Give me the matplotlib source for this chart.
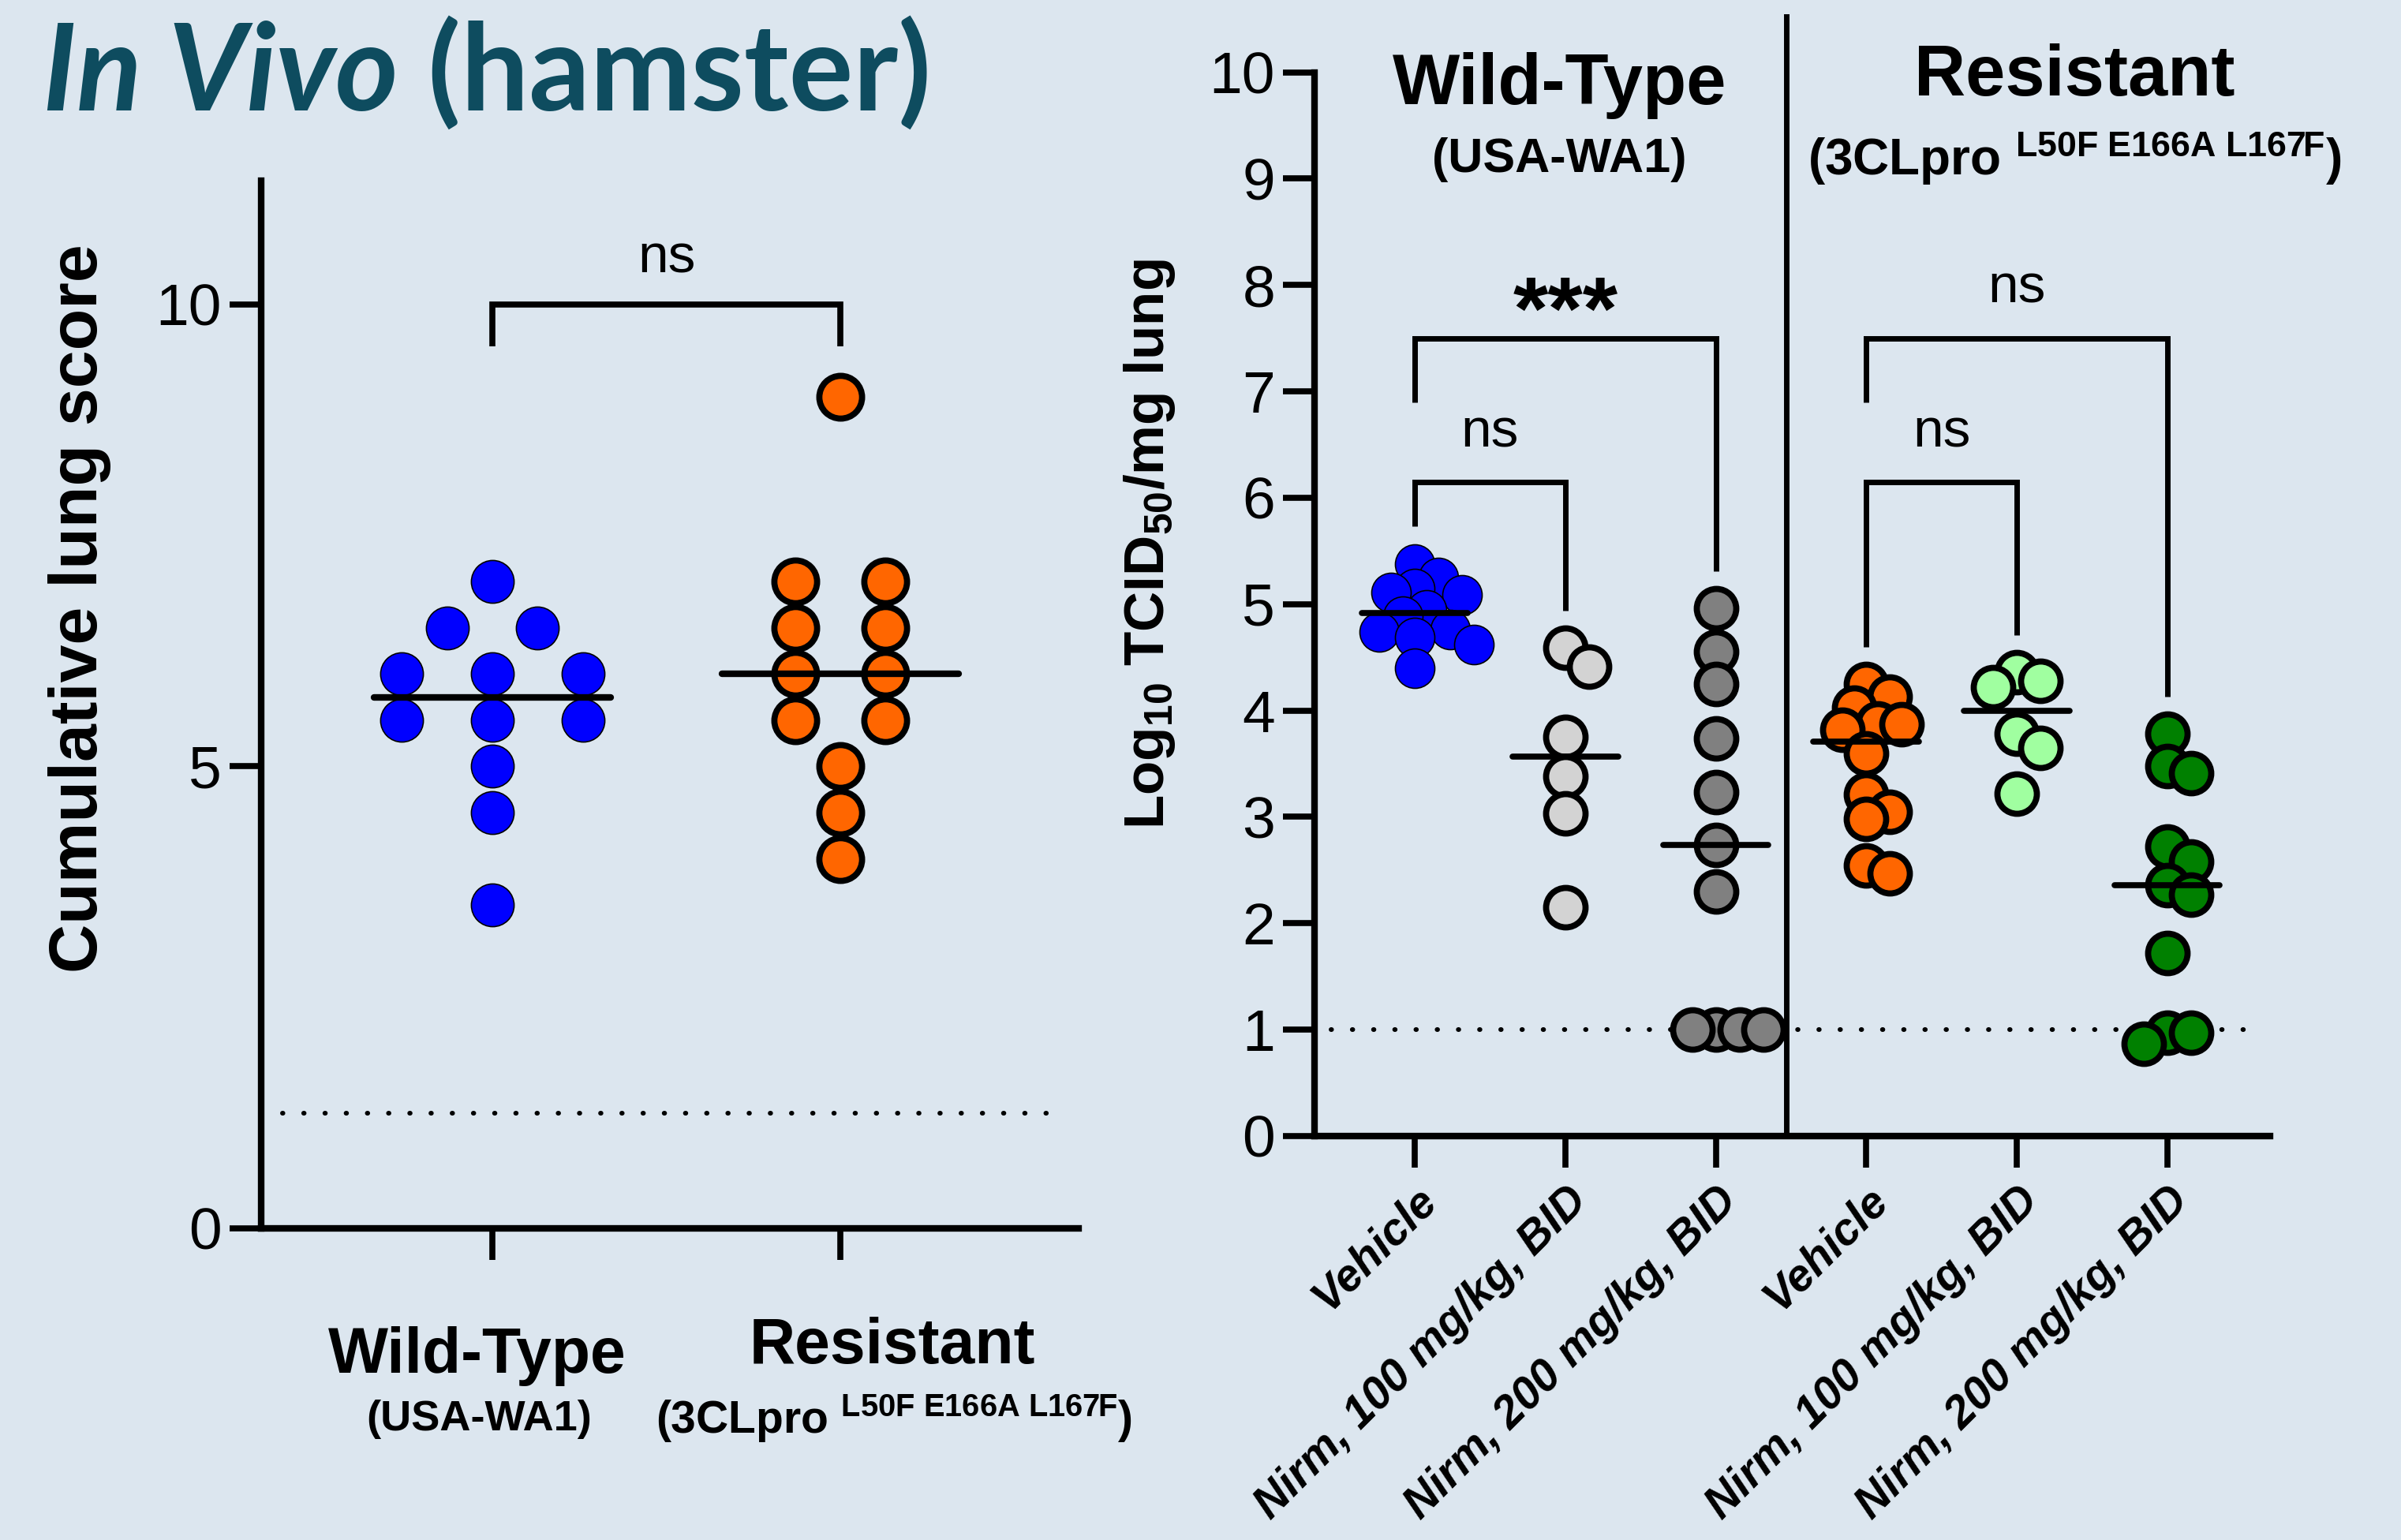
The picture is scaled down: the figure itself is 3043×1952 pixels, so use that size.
import matplotlib.pyplot as plt
import numpy as np

# ----- DATA -----

lung_groups = ["Wild-Type", "Resistant"]
lung_wt = [7.0, 6.5, 6.5, 6.0, 6.0, 6.0, 5.5, 5.5, 5.5, 5.0, 4.5, 3.5]
lung_res = [9.0, 7.0, 7.0, 6.5, 6.5, 6.0, 6.0, 5.5, 5.5, 5.0, 4.5, 4.0]
lung_lod = 1.25
lung_stat = "ns"

titer_labels = ["Vehicle", "Nirm, 100 mg/kg, BID", "Nirm, 200 mg/kg, BID",
                "Vehicle", "Nirm, 100 mg/kg, BID", "Nirm, 200 mg/kg, BID"]
titer_wt_vehicle = [5.38, 5.25, 5.15, 5.11, 5.09, 4.95, 4.89, 4.76, 4.74, 4.69, 4.62, 4.40]
titer_wt_100 = [4.59, 4.41, 3.75, 3.38, 3.03, 2.15]
titer_wt_200 = [4.96, 4.55, 4.25, 3.74, 3.23, 2.74, 2.30, 1.0, 1.0, 1.0, 1.0]
titer_res_vehicle = [4.25, 4.13, 4.03, 3.88, 3.87, 3.82, 3.60, 3.21, 3.05, 2.98, 2.54, 2.47]
titer_res_100 = [4.36, 4.28, 4.22, 3.78, 3.65, 3.22]
titer_res_200 = [3.78, 3.48, 3.41, 2.72, 2.58, 2.36, 2.27, 1.72, 0.97, 0.97, 0.87]
titer_lod = 1.0
# (first group, second group, label) for each comparison
titer_stats_low = [(0, 1, "ns"), (3, 4, "ns")]
titer_stats_high = [(0, 2, "***"), (3, 5, "ns")]

# ----- STYLE -----

BG = "#DCE6EF"
TEAL = "#0E4C5F"
lung_colors = ["#0000FF", "#FF6600"]
titer_colors = ["#0000FF", "#D3D3D3", "#808080", "#FF6600", "#A0FFA0", "#008000"]

plt.rcParams["font.family"] = ["Liberation Sans", "DejaVu Sans"]
plt.rcParams["mathtext.fontset"] = "custom"
plt.rcParams["mathtext.rm"] = "Liberation Sans"
plt.rcParams["mathtext.bf"] = "Liberation Sans:bold"
plt.rcParams["mathtext.it"] = "Liberation Sans:italic"


# ----- HELPER FUNCTIONS -----


def spread_equal(values, step):
    """
    centre the points that share the same value side by side
    """
    values = np.asarray(values)
    offsets = np.zeros(len(values))
    for v in np.unique(values):
        idx = np.where(values == v)[0]
        offsets[idx] = (np.arange(len(idx)) - (len(idx) - 1) / 2) * step
    return offsets


def swarm(ax, x0, values, min_px, step_px):
    """
    greedy beeswarm in pixel space, returns x positions in data units
    """
    placed = []
    xs = []
    order = [0]
    for n in range(1, 30):
        order += [n, -n]
    for v in values:
        px, py = ax.transData.transform((x0, v))
        for k in order:
            cx = px + k * step_px
            if all(np.hypot(cx - qx, py - qy) >= min_px for qx, qy in placed):
                break
        placed.append((cx, py))
        xs.append(ax.transData.inverted().transform((cx, py))[0])
    return np.array(xs)


def bracket(ax, x0, x1, top, leg0, leg1, lw=5):
    ax.plot([x0, x0, x1, x1], [leg0, top, top, leg1], color="k", lw=lw,
            solid_joinstyle="miter", solid_capstyle="butt", clip_on=False, zorder=5)


def style_axes(ax):
    ax.set_facecolor(BG)
    for side in ["top", "right"]:
        ax.spines[side].set_visible(False)
    for side in ["left", "bottom"]:
        ax.spines[side].set_linewidth(6)
    ax.tick_params(length=29, width=5.5, labelsize=54, pad=7)


# ----- FIGURE -----

fig = plt.figure(figsize=(30.43, 19.52), dpi=100)
fig.patch.set_facecolor(BG)

# left panel: lung score
axL = fig.add_axes([0.1088, 0.2024, 0.3405, 0.6803])
style_axes(axL)
axL.set_xlim(-0.664, 1.685)
axL.set_ylim(0, 11.34)
axL.set_yticks([0, 5, 10])
axL.set_xticks([0, 1])
axL.set_xticklabels([])

axL.axhline(lung_lod, xmin=0.026, xmax=0.971, color="k", lw=4.3,
            linestyle=(0, (0.1, 4.4)), dash_capstyle="round", zorder=1)

for i, (vals, col) in enumerate(zip([lung_wt, lung_res], lung_colors)):
    x = i + spread_equal(vals, 0.26)
    mew = 1.2 if i == 0 else 5.6
    axL.scatter(x, vals, s=39 ** 2, c=col, edgecolors="k", linewidths=mew, zorder=3)
    med = np.median(vals)
    axL.plot([i - 0.34, i + 0.34], [med, med], color="k", lw=6,
             solid_capstyle="round", zorder=4)

bracket(axL, 0, 1, 10, 9.55, 9.55, lw=5.5)
axL.text(0.5, 10.5, lung_stat, ha="center", va="center", fontsize=50)

axL.text(-0.043, -1.56, lung_groups[0], ha="center", va="baseline",
         fontsize=58, fontweight="bold")
axL.text(-0.039, -2.19, "(USA-WA1)", ha="center", va="baseline",
         fontsize=39, fontweight="bold")
axL.text(1.15, -1.46, lung_groups[1], ha="center", va="baseline",
         fontsize=58, fontweight="bold")
axL.text(1.154, -2.22, r"(3CLpro $^{\mathbf{L50F\ E166A\ L167F}}$)", ha="center",
         va="baseline", fontsize=41, fontweight="bold")

fig.text(0.0332, 0.605, "Cumulative lung score", rotation=90, ha="center",
         va="center", fontsize=62, fontweight="bold")

# right panel: viral titer
axR = fig.add_axes([0.5475, 0.2623, 0.3980, 0.6908])
style_axes(axR)
axR.set_xlim(-0.666, 5.684)
axR.set_ylim(0, 10)
axR.set_yticks(range(11))
axR.set_xticks(range(6))
axR.set_xticklabels(titer_labels, rotation=45, ha="right", rotation_mode="anchor",
                    fontsize=41, fontweight="bold", fontstyle="italic")
axR.tick_params(axis="x", pad=10)

axR.axhline(titer_lod, xmin=0.017, xmax=0.99, color="k", lw=4.3,
            linestyle=(0, (0.1, 4.4)), dash_capstyle="round", zorder=1)
axR.plot([2.47, 2.47], [0, 10.52], color="k", lw=5, clip_on=False, zorder=2)

titer_sets = [titer_wt_vehicle, titer_wt_100, titer_wt_200,
              titer_res_vehicle, titer_res_100, titer_res_200]
for i, (vals, col) in enumerate(zip(titer_sets, titer_colors)):
    x = swarm(axR, i, vals, 30, 15)
    mew = 1.2 if i == 0 else 5.6
    axR.scatter(x, vals, s=36 ** 2, c=col, edgecolors="k", linewidths=mew, zorder=3)
    med = np.median(vals)
    axR.plot([i - 0.35, i + 0.35], [med, med], color="k", lw=5.5,
             solid_capstyle="round", zorder=4)

low_top = 6.15
high_top = 7.5
for a, b, lab in titer_stats_low:
    bracket(axR, a, b, low_top, max(titer_sets[a]) + 0.35, max(titer_sets[b]) + 0.35)
    axR.text((a + b) / 2, 6.61, lab, ha="center", va="center", fontsize=50)
for a, b, lab in titer_stats_high:
    bracket(axR, a, b, high_top, low_top + 0.75, max(titer_sets[b]) + 0.35)
    if lab == "ns":
        axR.text((a + b) / 2, 7.97, lab, ha="center", va="center", fontsize=50)
    else:
        axR.text((a + b) / 2, 7.49, lab, ha="center", va="baseline",
                 fontsize=82, fontweight="bold")

axR.text(0.96, 9.70, "Wild-Type", ha="center", va="baseline", fontsize=65,
         fontweight="bold")
axR.text(0.96, 9.06, "(USA-WA1)", ha="center", va="baseline", fontsize=44,
         fontweight="bold")
axR.text(4.384, 9.78, "Resistant", ha="center", va="baseline", fontsize=65,
         fontweight="bold")
axR.text(4.384, 9.03, r"(3CLpro $^{\mathbf{L50F\ E166A\ L167F}}$)", ha="center",
         va="baseline", fontsize=46, fontweight="bold")

fig.text(0.4788, 0.6465, r"Log$_{\mathbf{10}}$ TCID$_{\mathbf{50}}$/mg lung",
         rotation=90, ha="center", va="center", fontsize=51, fontweight="bold")

# title, italic part then upright part
t1 = fig.text(0.0177, 0.9283, "In Vivo", fontfamily="Lato", fontweight="bold",
              fontstyle="italic", fontsize=110, color=TEAL, va="baseline")
bb = t1.get_window_extent(fig.canvas.get_renderer())
x_end = fig.transFigure.inverted().transform((bb.x1, bb.y0))[0]
fig.text(x_end, 0.9283, " (hamster)", fontfamily="Lato", fontweight="bold",
         fontsize=110, color=TEAL, va="baseline")

fig.savefig("out.png", dpi=100, facecolor=BG)
